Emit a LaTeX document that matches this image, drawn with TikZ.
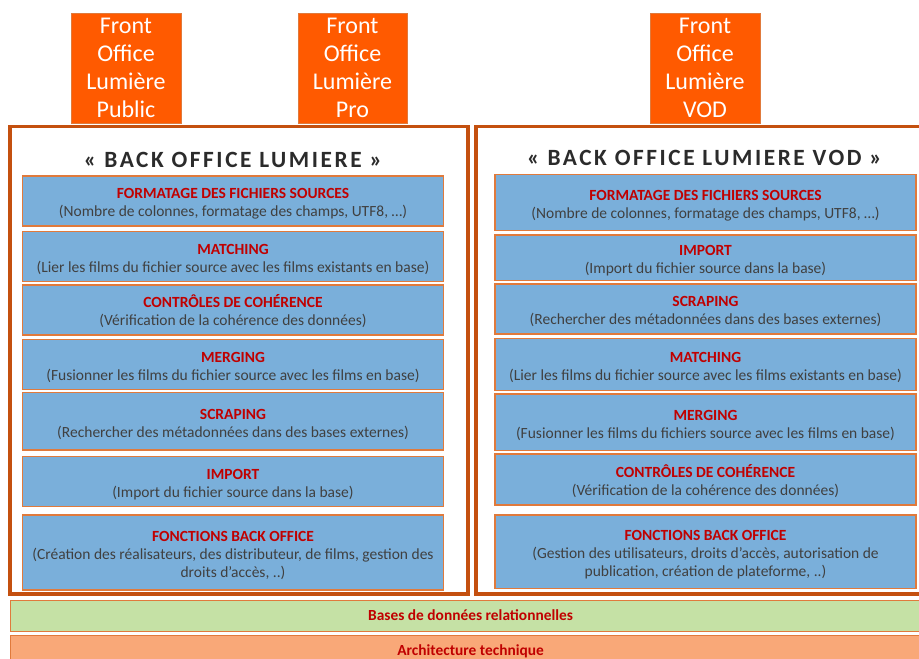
\documentclass[tikz,border=0pt]{standalone}
\usepackage{fontspec}
\setmainfont{Carlito}
\usetikzlibrary{positioning}

\definecolor{frontorange}{HTML}{FF5A00}
\definecolor{cadrebrun}{HTML}{C4500F}
\definecolor{bordure}{HTML}{E07A3C}
\definecolor{bleu}{HTML}{7AAFDA}
\definecolor{rouge}{HTML}{C00000}
\definecolor{gris}{HTML}{404040}
\definecolor{vert}{HTML}{C5E1A5}
\definecolor{saumon}{HTML}{F9A878}
\definecolor{titregris}{HTML}{2B2B2B}

% titre rouge + description sur la ligne suivante
\newcommand{\etape}[2]{\rule{0pt}{16pt}{\bfseries\color{rouge}#1}\\#2}

\begin{document}
\begin{tikzpicture}[x=1pt, y=-1pt,
            front/.style={rectangle, draw=bordure, line width=1pt, fill=frontorange, text=white, minimum width=110pt, minimum height=110pt, inner sep=0pt, align=center, font=\fontsize{24}{28}\selectfont},
            cadre/.style={rectangle, draw=cadrebrun, line width=3.5pt},
            block/.style={rectangle, draw=bordure, line width=1.2pt, fill=bleu, text=gris, minimum width=421pt, inner sep=2pt, align=center, font=\fontsize{15.5}{18}\selectfont},
            titre/.style={anchor=base, text=titregris, font=\fontsize{23.3}{28}\selectfont\bfseries\addfontfeature{LetterSpace=11}},
            couche/.style={rectangle, draw=bordure, line width=1.2pt, minimum width=921pt, anchor=north west, text=rouge, font=\fontsize{15.4}{18}\selectfont\bfseries}
        ]

        \useasboundingbox (0,0) rectangle (919,659);
        \clip (0,0) rectangle (919,659);

        % front offices
        \node[front] (fopublic) at (126,68) {Front\\Office\\Lumière\\Public};
        \node[front, minimum width=109pt] (fopro) at (352.5,68) {Front\\Office\\Lumière\\Pro};
        \node[front] (fovod) at (705,68) {Front\\Office\\Lumière\\VOD};

        % les deux back offices
        \node[cadre, minimum width=458pt, minimum height=467.5pt] (bo) at (239,360.25) {};
        \node[cadre, minimum width=460pt, minimum height=467.5pt] (bovod) at (706,360.25) {};

        \node[titre] (titrebo) at (233,167) {« BACK OFFICE LUMIERE »};
        \node[titre] (titrebovod) at (704.5,165.5) {« BACK OFFICE LUMIERE VOD »};

        % etapes back office lumiere
        \node[block, minimum height=50pt] (formatage) at (233,201) {\etape{FORMATAGE DES FICHIERS SOURCES}{(Nombre de colonnes, formatage des champs, UTF8, …)}};
        \node[block, minimum height=50pt] (matching) at (233,256.7) {\etape{MATCHING}{(Lier les films du fichier source avec les films existants en base)}};
        \node[block, minimum height=50pt] (coherence) at (233,310) {\etape{CONTRÔLES DE COHÉRENCE}{(Vérification de la cohérence des données)}};
        \node[block, minimum height=50pt] (merging) at (233,364.3) {\etape{MERGING}{(Fusionner les films du fichier source avec les films en base)}};
        \node[block, minimum height=57.3pt] (scraping) at (233,421.35) {\etape{SCRAPING}{(Rechercher des métadonnées dans des bases externes)}};
        \node[block, minimum height=50pt] (import) at (233,481.7) {\etape{IMPORT}{(Import du fichier source dans la base)}};
        \node[block, minimum height=75pt] (fonctions) at (233,552.5) {\etape{FONCTIONS BACK OFFICE}{(Création des réalisateurs, des distributeur, de films, gestion des\\droits d’accès, ..)}};

        % etapes back office lumiere vod
        \node[block, minimum height=56pt] (vformatage) at (705.5,202.5) {\etape{FORMATAGE DES FICHIERS SOURCES}{(Nombre de colonnes, formatage des champs, UTF8, …)}};
        \node[block, minimum height=45.7pt] (vimport) at (705.5,257.85) {\etape{IMPORT}{(Import du fichier source dans la base)}};
        \node[block, minimum height=50pt] (vscraping) at (705.5,309) {\etape{SCRAPING}{(Rechercher des métadonnées dans des bases externes)}};
        \node[block, minimum height=52.4pt] (vmatching) at (705.5,364.5) {\etape{MATCHING}{(Lier les films du fichier source avec les films existants en base)}};
        \node[block, minimum height=56.7pt] (vmerging) at (705.5,422.35) {\etape{MERGING}{(Fusionner les films du fichiers source avec les films en base)}};
        \node[block, minimum height=51pt] (vcoherence) at (705.5,479.5) {\etape{CONTRÔLES DE COHÉRENCE}{(Vérification de la cohérence des données)}};
        \node[block, minimum height=73.3pt] (vfonctions) at (705.5,551.65) {\etape{FONCTIONS BACK OFFICE}{(Gestion des utilisateurs, droits d’accès, autorisation de\\publication, création de plateforme, ..)}};

        % couches communes
        \node[couche, fill=vert, minimum height=31pt] (bdd) at (9.5,599.5) {Bases de données relationnelles};
        \node[couche, fill=saumon, minimum height=33pt] (archi) at (9.5,634.5) {Architecture technique};

    \end{tikzpicture}
\end{document}
